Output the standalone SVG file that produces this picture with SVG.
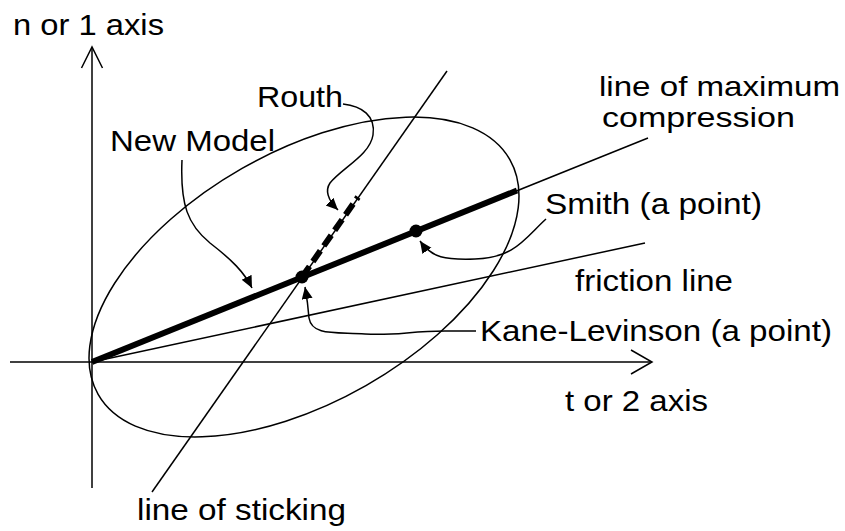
<svg xmlns="http://www.w3.org/2000/svg" width="845" height="531" viewBox="0 0 845 531">
<style>
  .thin{fill:none;stroke:#000;stroke-width:1.5}
  .lead{fill:none;stroke:#000;stroke-width:1.5;marker-end:url(#ah)}
  .thick{fill:none;stroke:#000;stroke-width:6}
  text{font-family:"Liberation Sans",Arial,sans-serif;font-size:30px;fill:#000}
  .tight{font-size:27.5px}
</style>
<defs>
  <marker id="ah" markerUnits="userSpaceOnUse" markerWidth="16" markerHeight="14" refX="12" refY="5.5" orient="auto">
    <path d="M0,0 L12,5.5 L0,11 z" fill="#000"/>
  </marker>
</defs>
<rect width="845" height="531" fill="#fff"/>
<g id="axes">
  <line class="thin" x1="92" y1="47" x2="92" y2="488"/>
  <polyline class="thin" points="81.5,68 92,47 102.5,68"/>
  <line class="thin" x1="10" y1="362" x2="652" y2="362"/>
  <polyline class="thin" points="631,350 652,362 631,374"/>
</g>
<g id="ellipse">
  <ellipse class="thin" cx="304" cy="277" rx="237" ry="125" transform="rotate(-29.7 304 277)"/>
</g>
<g id="lines">
  <line class="thin" x1="92" y1="362" x2="648" y2="138"/>
  <line class="thin" x1="92" y1="362" x2="645" y2="243"/>
  <line class="thin" x1="152" y1="492" x2="447" y2="71"/>
  <line class="thick" x1="92" y1="362" x2="517" y2="190.5"/>
  <line class="thick" x1="302" y1="277" x2="358" y2="197" stroke-dasharray="13 6"/>
</g>
<g id="points">
  <circle cx="302" cy="277" r="6.5" fill="#000"/>
  <circle cx="416" cy="231" r="6.5" fill="#000"/>
</g>
<g id="connectors">
  <path class="lead" d="M182,160 C180,205 188,225 210,243 C232,260 244,272 252,288"/>
  <path class="lead" d="M343,104 C362,106 376,116 373,135 C370,155 342,168 330,183 C324,192 330,202 338,210"/>
  <path class="lead" d="M546,219 C525,238 515,258 475,259 C445,260 432,258 420,241"/>
  <path class="lead" d="M476,331 L445,331 C410,331 395,336 365,334 C335,332 312,336 309,318 C308,305 307,298 305,287"/>
</g>
<g id="labels">
  <text x="13" y="35" textLength="151" lengthAdjust="spacingAndGlyphs">n or 1 axis</text>
  <text x="110" y="151" textLength="165" lengthAdjust="spacingAndGlyphs">New Model</text>
  <text x="257" y="107" textLength="86" lengthAdjust="spacingAndGlyphs">Routh</text>
  <text class="tight" x="599" y="96" textLength="241" lengthAdjust="spacingAndGlyphs">line of maximum</text>
  <text class="tight" x="602" y="127" textLength="193" lengthAdjust="spacingAndGlyphs">compression</text>
  <text x="545" y="214" textLength="217" lengthAdjust="spacingAndGlyphs">Smith (a point)</text>
  <text x="575" y="291" textLength="158" lengthAdjust="spacingAndGlyphs">friction line</text>
  <text x="480" y="341" textLength="352" lengthAdjust="spacingAndGlyphs">Kane-Levinson (a point)</text>
  <text x="565" y="411" textLength="143" lengthAdjust="spacingAndGlyphs">t or 2 axis</text>
  <text x="137" y="520" textLength="209" lengthAdjust="spacingAndGlyphs">line of sticking</text>
</g>
</svg>
